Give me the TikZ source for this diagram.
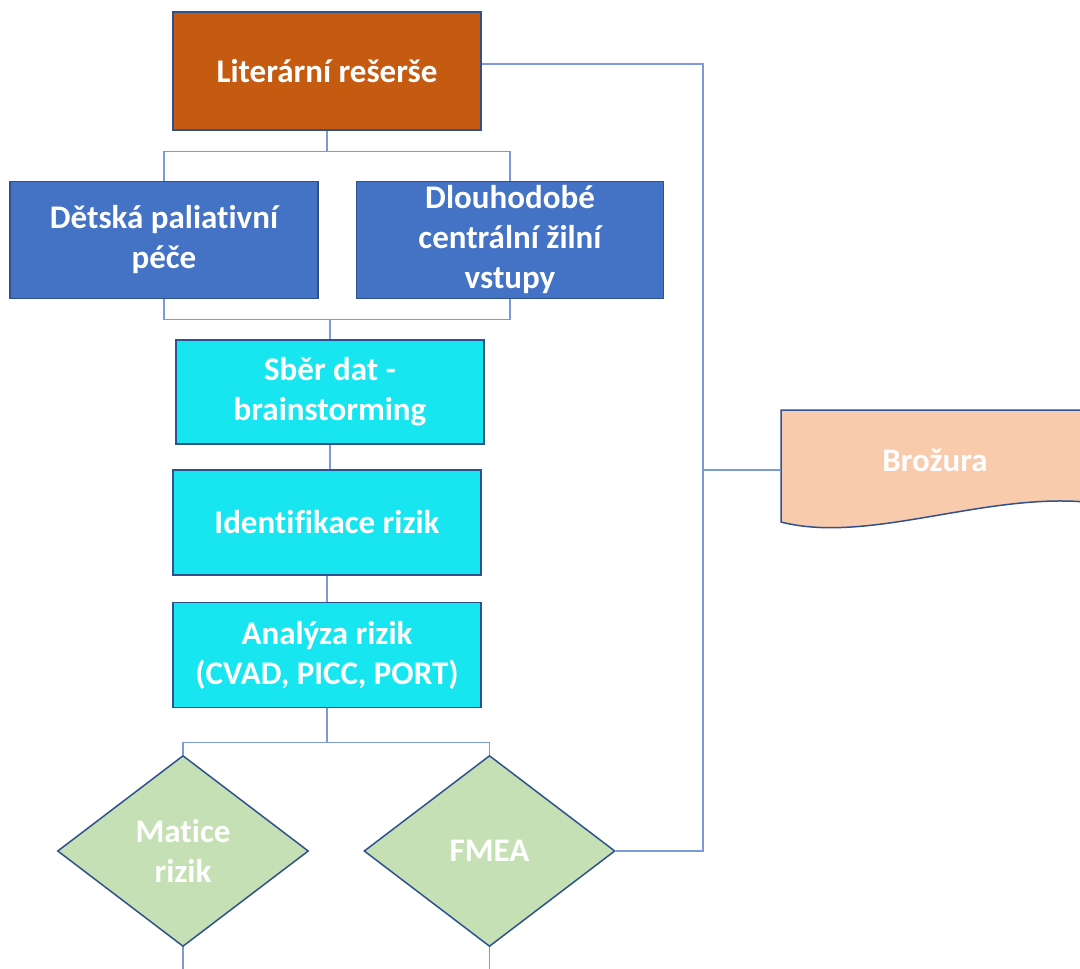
\documentclass[tikz,border=0pt]{standalone}
\usepackage{fontspec}
\setmainfont{Carlito}[Ligatures=NoCommon]
\usetikzlibrary{positioning, calc, shapes.geometric}

\definecolor{litorange}{HTML}{C55A11}
\definecolor{topicblue}{HTML}{4472C4}
\definecolor{stepcyan}{HTML}{17E6F0}
\definecolor{decgreen}{HTML}{C5E0B4}
\definecolor{outpeach}{HTML}{F8CBAD}
\definecolor{bordblue}{HTML}{2F528F}
\definecolor{connblue}{HTML}{7A9BD8}

\begin{document}
\begin{tikzpicture}[x=1pt, y=-1pt,
        box/.style={draw=bordblue, line width=1.5pt, minimum width=308pt, inner sep=0pt,
                    align=center, text=white, font=\fontsize{33}{40}\selectfont\bfseries},
        src/.style={box, fill=litorange, minimum height=118pt},
        topic/.style={box, fill=topicblue, minimum height=117pt},
        stepbox/.style={box, fill=stepcyan, minimum height=105pt},
        dec/.style={box, shape=diamond, fill=decgreen, aspect=1.3,
                    minimum width=251pt, minimum height=191pt},
        conn/.style={draw=connblue, line width=1.2pt},
    ]
        \useasboundingbox (0,0) rectangle (1080,969);

        % source and topics
        \node[src]   (lit) at (327,71)      {Liter\'arn\'i re\v{s}er\v{s}e};
        \node[topic] (det) at (164,240)     {D\v{e}tsk\'a paliativn\'i\\p\'e\v{c}e};
        \node[topic, right=37pt of det, minimum width=307pt] (dlo)
                                            {Dlouhodob\'e\\centr\'aln\'i \v{z}iln\'i\\vstupy};

        % process steps
        \node[stepbox, minimum height=104pt] (sber) at (330,392) {Sb\v{e}r dat -\\brainstorming};
        \node[stepbox] (ident) at (327,522.5)            {Identifikace rizik};
        \node[stepbox, below=26pt of ident] (anal)       {Anal\'yza rizik\\(CVAD, PICC, PORT)};

        % methods
        \node[dec] (mat) at (183,851)          {Matice\\rizik};
        \node[dec, right=54pt of mat] (fmea)   {FMEA};

        % output: document shape
        \draw[draw=bordblue, line width=1.5pt, fill=outpeach]
            (781,522) -- (781,410) -- (1095,410) -- (1095,503)
            .. controls (990,490) and (870,545) .. cycle;
        \node[font=\fontsize{33}{40}\selectfont\bfseries, text=white] (bro) at (935,460) {Bro\v{z}ura};
        \coordinate (browest) at (781,470);

        % connectors
        \coordinate (f1) at ($(lit.south)+(0,21)$);
        \draw[conn] (lit.south) -- (f1) -| (det.north);
        \draw[conn] (f1) -| (dlo.north);

        \coordinate (f2) at ($(det.south)+(0,20)$);
        \draw[conn] (det.south) -- (f2) -| (dlo.south);
        \draw[conn] (sber.north) -- (sber.north |- f2);

        \draw[conn] (sber.south) -- (sber.south |- ident.north);
        \draw[conn] (ident) -- (anal);

        \coordinate (f3) at ($(anal.south)+(0,34)$);
        \draw[conn] (anal.south) -- (f3) -| (mat.north);
        \draw[conn] (f3) -| (fmea.north);
        \draw[conn] (mat.south) -- ++(0,30);
        \draw[conn] (fmea.south) -- ++(0,30);

        % feedback bus
        \coordinate (bus) at (703,64);
        \draw[conn] (fmea.east) -| (bus) -- (bus -| lit.east);
        \draw[conn] (browest -| bus) -- (browest);
\end{tikzpicture}
\end{document}
